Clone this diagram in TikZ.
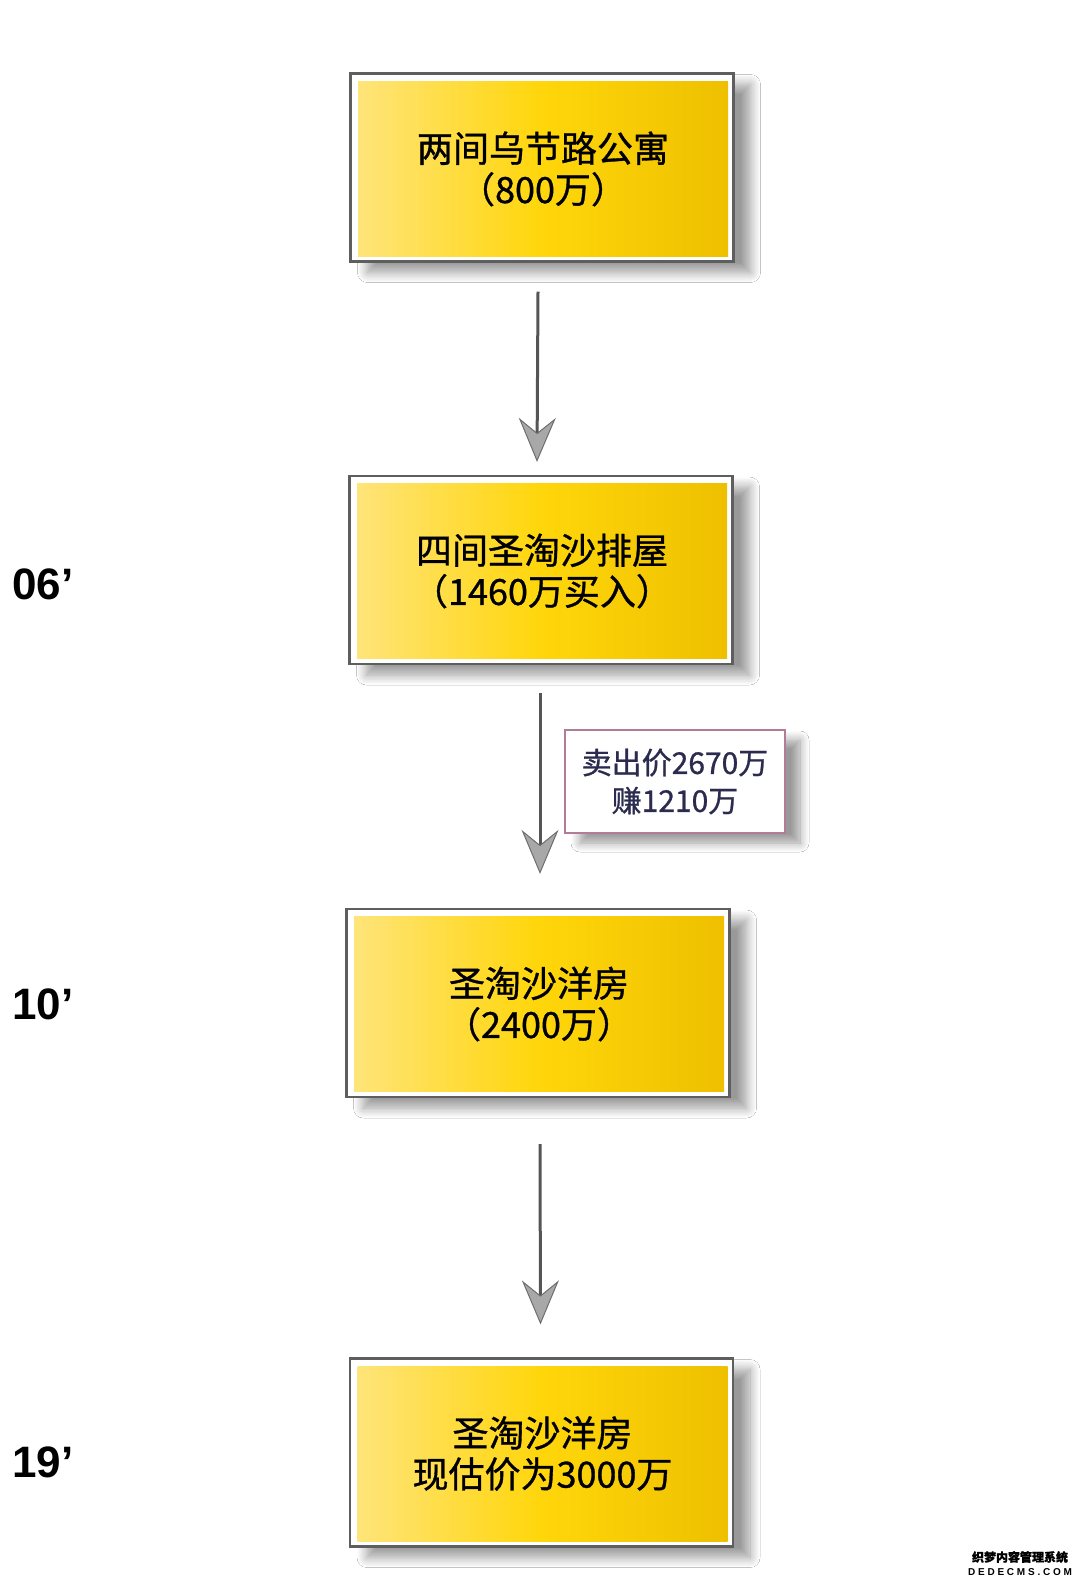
\documentclass[tikz,border=0pt]{standalone}
\usepackage{fontspec}
\setmainfont{Liberation Sans}
\newfontfamily\cjk[FakeBold=0.9]{Noto Sans CJK SC}
\newfontfamily\yrs{Liberation Sans}
\usetikzlibrary{arrows.meta,shadows.blur}
\definecolor{framegray}{HTML}{5E5E5E}
\definecolor{ylight}{HTML}{FFE47A}
\definecolor{ymid}{HTML}{FFD60A}
\definecolor{ydark}{HTML}{EEC000}
\definecolor{linegray}{HTML}{555555}
\definecolor{headfill}{HTML}{A8A8A8}
\definecolor{headedge}{HTML}{6E6E6E}
\definecolor{labelborder}{HTML}{B07C98}
\definecolor{navy}{HTML}{2B2B4F}
\tikzset{
 frame/.style={draw=framegray, line width=2.2pt, fill=white, minimum width=383pt, minimum height=188pt, inner sep=0pt,
   blur shadow={shadow xshift=17pt, shadow yshift=-11pt, shadow blur radius=10pt, shadow blur steps=12, shadow opacity=40}},
 ybox/.style={minimum width=370pt, minimum height=175pt, inner sep=0pt, left color=ylight, right color=ydark, middle color=ymid,
   font=\cjk\fontsize{36pt}{41pt}\selectfont, align=center, text=black},
 lbl/.style={draw=labelborder, line width=1.3pt, fill=white, minimum width=220pt, minimum height=103pt, inner sep=0pt,
   font=\cjk\fontsize{30pt}{38pt}\selectfont, align=center, text=navy,
   blur shadow={shadow xshift=15pt, shadow yshift=-10pt, shadow blur radius=9pt, shadow blur steps=10, shadow opacity=40}},
 arr/.style={draw=linegray, line width=3pt, -{Stealth[length=44pt,width=37pt,inset=15pt,fill=headfill,color=headedge,line width=1pt]}},
 yr/.style={font=\yrs\bfseries\fontsize{44pt}{44pt}\selectfont, anchor=west, inner sep=0pt},
 wm/.style={font=\cjk\bfseries\fontsize{12pt}{12pt}\selectfont, inner sep=0pt},
}
\begin{document}
\begin{tikzpicture}[x=1pt,y=-1pt]
\fill[white] (0,0) rectangle (1080,1586);
\useasboundingbox (0,0) rectangle (1080,1586);

% boxes
\node[frame] (f1) at (542,167.5) {};
\node[ybox] (b1) at (543,169) {两间乌节路公寓\\（800万）};
\node[frame] (f2) at (541,570) {};
\node[ybox] (b2) at (542,571) {四间圣淘沙排屋\\（1460万买入）};
\node[frame] (f3) at (538,1003) {};
\node[ybox] (b3) at (539,1004) {圣淘沙洋房\\（2400万）};
\node[frame] (f4) at (541.5,1452.5) {};
\node[ybox] (b4) at (542.5,1453.5) {圣淘沙洋房\\现估价为3000万};

% arrows
\draw[arr] ([xshift=-4pt,yshift=-29pt]f1.south) -- ([xshift=-4pt,yshift=13pt]f2.north);
\draw[arr] ([xshift=-1pt,yshift=-28pt]f2.south) -- ([xshift=2pt,yshift=34pt]f3.north);
\draw[arr] ([xshift=2pt,yshift=-46pt]f3.south) -- ([xshift=-1pt,yshift=33pt]f4.north);

% label
\node[lbl] (l1) at (675,781.5) {卖出价2670万\\赚1210万};

% years
\node[yr] (y1) at (12,584) {06’};
\node[yr] (y2) at (12,1004) {10’};
\node[yr] (y3) at (12,1462) {19’};

% watermark
\node[wm] (w1) at (1020,1557) {织梦内容管理系统};
\node[wm,font=\yrs\bfseries\fontsize{10pt}{10pt}\selectfont] (w2) at (1020,1572) {D E D E C M S . C O M};
\end{tikzpicture}
\end{document}
